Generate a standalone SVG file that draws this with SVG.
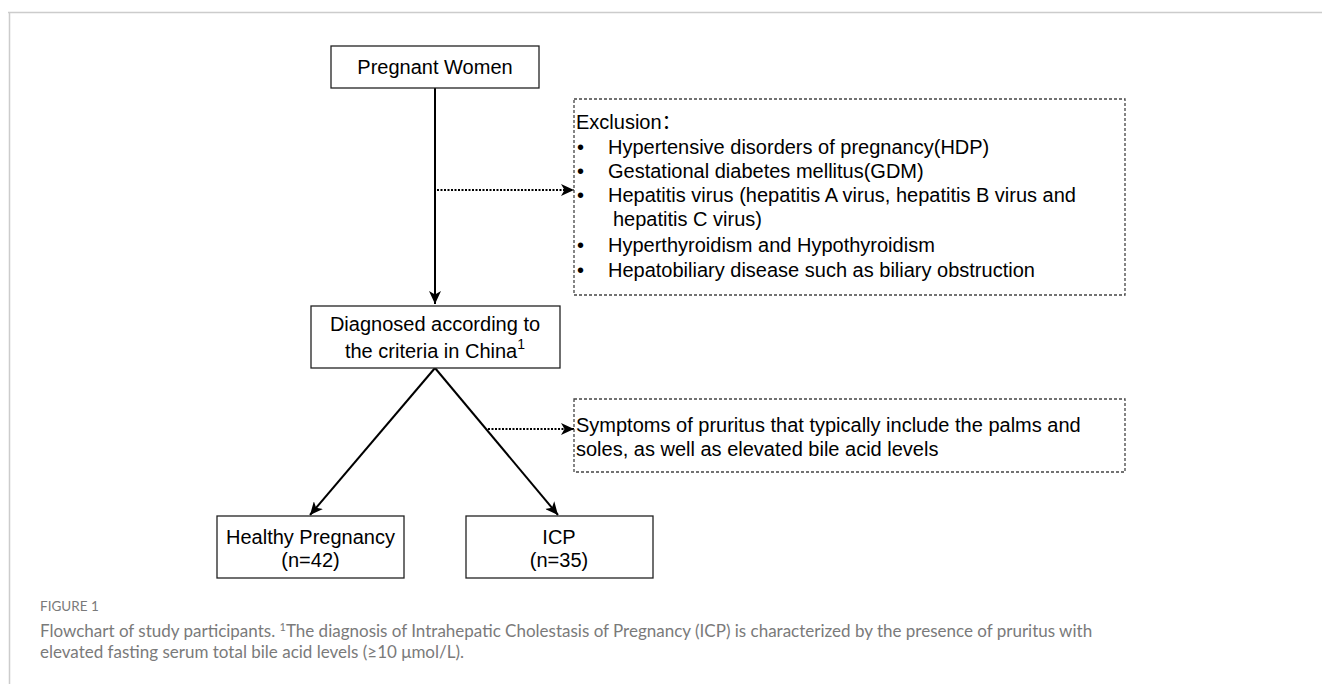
<svg xmlns="http://www.w3.org/2000/svg" width="1322" height="684" viewBox="0 0 1322 684">
<style>
.box{fill:#fff;stroke:#222;stroke-width:1.3}
.dbox{fill:none;stroke:#444;stroke-width:1.3;stroke-dasharray:3 2}
.t{font-family:"Liberation Sans",Arial,sans-serif;font-size:20px;fill:#000}
.s{font-family:"Liberation Sans",Arial,"Noto Sans CJK SC",sans-serif;font-size:20px;fill:#000}
.conn{stroke:#000;stroke-width:2;fill:none}
.dot{stroke:#000;stroke-width:2;fill:none;stroke-dasharray:2 1.5}
.cap{font-family:Lato,"Open Sans",sans-serif;fill:#7a7a7a}
</style>
<defs>
<marker id="ah" markerUnits="userSpaceOnUse" markerWidth="14" markerHeight="12" refX="13" refY="6" orient="auto">
<path d="M0,0 L13,6 L0,12 L3.5,6 z" fill="#000"/>
</marker>
</defs>
<rect width="1322" height="684" fill="#fff"/>
<path d="M8 12.5 H1322 M9.5 12 V684" stroke="#ccc" stroke-width="1.5" fill="none"/>

<g id="connectors">
<path class="conn" d="M435 88 V304" marker-end="url(#ah)"/>
<path class="dot" d="M437 190 H574" marker-end="url(#ah)"/>
<path class="conn" d="M435 368 L310 515" marker-end="url(#ah)"/>
<path class="conn" d="M435 368 L558 515" marker-end="url(#ah)"/>
<path class="dot" d="M488 429 H574" marker-end="url(#ah)"/>
</g>

<g id="pregnant">
<rect class="box" x="331" y="46" width="208" height="42"/>
<text class="t" x="435" y="74" text-anchor="middle">Pregnant Women</text>
</g>

<g id="exclusion">
<rect class="dbox" x="574" y="99" width="551" height="196"/>
<text class="s" x="576" y="129">Exclusion：</text>
<text class="s" x="577" y="154">•</text>
<text class="s" x="608" y="154">Hypertensive disorders of pregnancy(HDP)</text>
<text class="s" x="577" y="178">•</text>
<text class="s" x="608" y="178">Gestational diabetes mellitus(GDM)</text>
<text class="s" x="577" y="202">•</text>
<text class="s" x="608" y="202">Hepatitis virus (hepatitis A virus, hepatitis B virus and</text>
<text class="s" x="613" y="226">hepatitis C virus)</text>
<text class="s" x="577" y="251.5">•</text>
<text class="s" x="608" y="251.5">Hyperthyroidism and Hypothyroidism</text>
<text class="s" x="577" y="276.5">•</text>
<text class="s" x="608" y="276.5">Hepatobiliary disease such as biliary obstruction</text>
</g>

<g id="diagnosed">
<rect class="box" x="311" y="306" width="249" height="62"/>
<text class="t" x="435" y="331" text-anchor="middle">Diagnosed according to</text>
<text class="t" x="435" y="358" text-anchor="middle">the criteria in China<tspan font-size="14" dy="-9">1</tspan></text>
</g>

<g id="symptoms">
<rect class="dbox" x="574" y="399" width="551" height="73"/>
<text class="s" x="576" y="431.5">Symptoms of pruritus that typically include the palms and</text>
<text class="s" x="576" y="456">soles, as well as elevated bile acid levels</text>
</g>

<g id="healthy">
<rect class="box" x="217" y="516" width="187" height="62"/>
<text class="t" x="310.5" y="544" text-anchor="middle">Healthy Pregnancy</text>
<text class="t" x="310.5" y="567" text-anchor="middle">(n=42)</text>
</g>

<g id="icp">
<rect class="box" x="466" y="516" width="187" height="62"/>
<text class="t" x="559" y="544" text-anchor="middle">ICP</text>
<text class="t" x="559" y="567" text-anchor="middle">(n=35)</text>
</g>

<g id="caption">
<text class="cap" x="40" y="611" font-size="13.5">FIGURE 1</text>
<text class="cap" x="40" y="637" font-size="17">Flowchart of study participants. <tspan font-size="11" dy="-6">1</tspan><tspan dy="6">The diagnosis of Intrahepatic Cholestasis of Pregnancy (ICP) is characterized by the presence of pruritus with</tspan></text>
<text class="cap" x="40" y="658" font-size="17">elevated fasting serum total bile acid levels (≥10 μmol/L).</text>
</g>
</svg>
